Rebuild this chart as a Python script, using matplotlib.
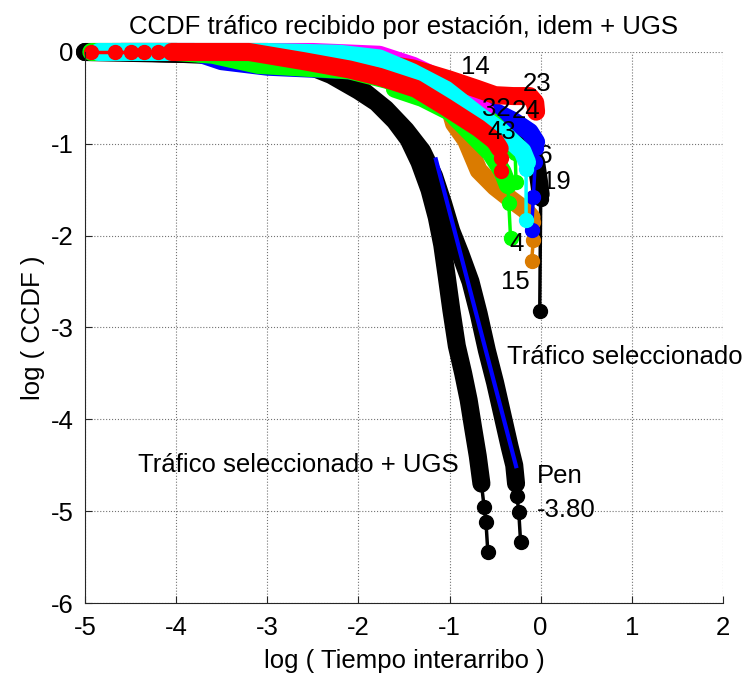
import matplotlib.pyplot as plt

plt.rcParams['font.family'] = ['Liberation Sans', 'DejaVu Sans']
plt.rcParams['axes.unicode_minus'] = False

# log10(tiempo interarribo) / log10(CCDF), leido del grafico
# trafico seleccionado + UGS
ugs_x = [-5.0, -4.0, -3.5, -3.0, -2.6, -2.3, -2.0, -1.8, -1.6, -1.45, -1.33, -1.22, -1.14, -1.08, -1.03, -0.98, -0.92, -0.85, -0.79, -0.74, -0.69, -0.65]
ugs_y = [0.0, 0.0, -0.01, -0.05, -0.13, -0.25, -0.42, -0.55, -0.75, -0.95, -1.2, -1.5, -1.8, -2.1, -2.45, -2.81, -3.2, -3.5, -3.79, -4.1, -4.4, -4.7]
ugs_cola_x = [-0.62, -0.60, -0.58]
ugs_cola_y = [-4.96, -5.12, -5.44]

# trafico seleccionado
sel_x = [-5.0, -3.0, -2.5, -2.0, -1.7, -1.48, -1.3, -1.17, -1.07, -0.98, -0.88, -0.77, -0.68, -0.59, -0.5, -0.42, -0.34, -0.29, -0.27]
sel_y = [0.0, -0.04, -0.13, -0.38, -0.62, -0.85, -1.08, -1.35, -1.65, -1.95, -2.2, -2.5, -2.85, -3.25, -3.6, -3.95, -4.3, -4.5, -4.7]
sel_cola_x = [-0.26, -0.24, -0.22]
sel_cola_y = [-4.84, -5.01, -5.34]

# recta de ajuste (pendiente -3.80)
ajuste_x = [-1.15, -0.27]
ajuste_y = [-1.17, -4.51]

# estaciones
est_19_x = [-4.6, -3.0, -2.0, -1.2, -0.6, -0.2, -0.05, -0.02, 0.0]
est_19_y = [0.0, -0.05, -0.2, -0.45, -0.7, -0.95, -1.2, -1.4, -1.55]
est_19_cola_x = [0.0, -0.01]
est_19_cola_y = [-1.6, -2.82]

est_15_x = [-4.7, -3.0, -2.0, -1.4, -1.04, -0.95, -0.82, -0.68, -0.5, -0.32, -0.17, -0.1]
est_15_y = [0.0, 0.0, -0.1, -0.3, -0.47, -0.78, -0.96, -1.29, -1.47, -1.61, -1.72, -1.8]
est_15_cola_x = [-0.08, -0.08, -0.1]
est_15_cola_y = [-1.85, -2.05, -2.28]

est_24_x = [-4.6, -3.8, -3.5, -3.0, -2.1, -1.5, -1.0, -0.6, -0.3, -0.12, -0.05]
est_24_y = [0.0, 0.0, -0.1, -0.16, -0.2, -0.3, -0.45, -0.6, -0.75, -0.87, -0.98]
est_24_cola_x = [-0.05, -0.06, -0.08, -0.1]
est_24_cola_y = [-1.05, -1.2, -1.58, -1.94]

est_4_x = [-4.93, -4.0, -3.6, -3.1, -2.1, -1.5, -1.1, -0.8, -0.55, -0.4, -0.3]
est_4_y = [0.0, 0.0, -0.03, -0.14, -0.2, -0.35, -0.5, -0.62, -0.75, -0.9, -1.05]
est_4_cola_x = [-0.28, -0.27]
est_4_cola_y = [-1.1, -1.42]

est_4b_x = [-1.6, -1.3, -1.0, -0.75, -0.55, -0.42, -0.36]
est_4b_y = [-0.4, -0.5, -0.65, -0.9, -1.1, -1.3, -1.45]
est_4b_cola_x = [-0.35, -0.33]
est_4b_cola_y = [-1.64, -2.03]

est_14_x = [-4.7, -2.5, -1.77, -1.4, -1.04, -0.85, -0.7, -0.6]
est_14_y = [0.0, 0.0, -0.03, -0.15, -0.32, -0.45, -0.55, -0.65]

est_23_x = [-4.6, -3.0, -2.0, -1.4, -1.0, -0.7, -0.5, -0.3, -0.12, -0.06, -0.05]
est_23_y = [0.0, 0.0, -0.08, -0.18, -0.3, -0.4, -0.47, -0.48, -0.48, -0.55, -0.65]

est_32_x = [-4.85, -3.0, -2.2, -1.77, -1.41, -1.04, -0.68, -0.45, -0.32, -0.2, -0.15]
est_32_y = [0.0, 0.0, -0.02, -0.07, -0.22, -0.41, -0.69, -0.85, -0.97, -1.08, -1.2]
est_32_cola_x = [-0.16, -0.16]
est_32_cola_y = [-1.27, -1.83]

est_43_cabeza_x = [-4.93, -4.67, -4.5, -4.35, -4.2]
est_43_x = [-4.05, -3.2, -2.6, -2.1, -1.77, -1.37, -1.04, -0.68, -0.5, -0.45]
est_43_y = [0.0, 0.0, -0.1, -0.19, -0.27, -0.4, -0.6, -0.83, -0.97, -1.05]
est_43_cola_x = [-0.43, -0.43]
est_43_cola_y = [-1.15, -1.3]

naranja = '#DA7B00'
fs = 18.5


def curva(ax, x, y, color, cola_x=None, cola_y=None):
    ax.plot(x, y, color=color, lw=13, solid_capstyle='round',
            solid_joinstyle='round', clip_on=False)
    if cola_x:
        ax.plot([x[-1]] + cola_x, [y[-1]] + cola_y, 'o-', color=color,
                lw=2.5, ms=10, clip_on=False)


fig = plt.figure(figsize=(7.44, 6.77), dpi=100)
ax = fig.add_axes([0.1142, 0.1093, 0.8575, 0.8139])

curva(ax, ugs_x, ugs_y, 'black', ugs_cola_x, ugs_cola_y)
curva(ax, sel_x, sel_y, 'black', sel_cola_x, sel_cola_y)
ax.plot(ajuste_x, ajuste_y, color='blue', lw=3)
curva(ax, est_19_x, est_19_y, 'black', est_19_cola_x, est_19_cola_y)
curva(ax, est_15_x, est_15_y, naranja, est_15_cola_x, est_15_cola_y)
curva(ax, est_24_x, est_24_y, 'blue', est_24_cola_x, est_24_cola_y)
curva(ax, est_4_x, est_4_y, 'lime', est_4_cola_x, est_4_cola_y)
curva(ax, est_4b_x, est_4b_y, 'lime', est_4b_cola_x, est_4b_cola_y)
curva(ax, est_14_x, est_14_y, 'magenta')
curva(ax, est_23_x, est_23_y, 'red')
curva(ax, est_32_x, est_32_y, 'cyan', est_32_cola_x, est_32_cola_y)
ax.plot(est_43_cabeza_x + [est_43_x[0]], [0.0] * (len(est_43_cabeza_x) + 1),
        'o-', color='red', lw=2.5, ms=10, clip_on=False)
curva(ax, est_43_x, est_43_y, 'red', est_43_cola_x, est_43_cola_y)

# etiquetas de estaciones
etiquetas = ['14', '23', '32', '24', '43', '16', '19', '4', '15']
etq_x = [-0.875, -0.2, -0.645, -0.32, -0.59, -0.18, 0.01, -0.34, -0.44]
etq_y = [-0.16, -0.35, -0.62, -0.64, -0.87, -1.13, -1.42, -2.09, -2.5]
for t, x, y in zip(etiquetas, etq_x, etq_y):
    ax.text(x, y, t, fontsize=fs, ha='left', va='center',
            zorder=1 if t == '16' else 3)

ax.text(-0.37, -3.32, 'Tráfico seleccionado', fontsize=fs, va='center')
ax.text(-4.42, -4.5, 'Tráfico seleccionado + UGS', fontsize=fs, va='center')
ax.text(-0.04, -4.62, 'Pen', fontsize=fs, va='center')
ax.text(-0.04, -4.99, '-3.80', fontsize=fs, va='center')

ax.set_xlim(-5, 2)
ax.set_ylim(-6, 0)
ax.set_xticks(range(-5, 3))
ax.set_yticks(range(-6, 1))
ax.grid(True, linestyle=':', color='0.45', lw=0.8)
ax.set_axisbelow(True)
ax.spines['top'].set_visible(False)
ax.spines['right'].set_visible(False)
for s in ['left', 'bottom']:
    ax.spines[s].set_color('0.15')
ax.tick_params(direction='in', length=5, labelsize=fs, colors='0.15',
               labelcolor='black')
ax.tick_params(axis='x', pad=9)
ax.tick_params(axis='y', pad=8)

ax.set_title('CCDF tráfico recibido por estación, idem + UGS', fontsize=fs, pad=13)
ax.set_xlabel('log ( Tiempo interarribo )', fontsize=fs, labelpad=7)
ax.set_ylabel('log ( CCDF )', fontsize=fs, labelpad=4)

fig.savefig('out.png', dpi=100)
